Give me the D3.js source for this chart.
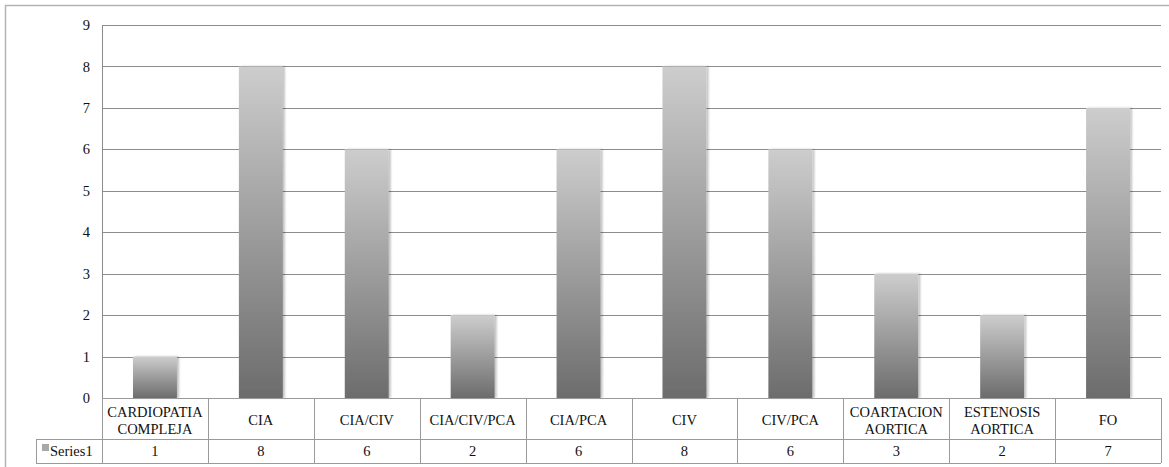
<!DOCTYPE html>
<html>
<head>
<meta charset="utf-8">
<script src="https://cdn.jsdelivr.net/npm/d3@7"></script>
<style>
  html, body { margin: 0; padding: 0; background: #fff; }
  svg { display: block; }
</style>
</head>
<body>
<script>
// Chart data
const categories = [
  ["CARDIOPATIA", "COMPLEJA"],
  ["CIA"],
  ["CIA/CIV"],
  ["CIA/CIV/PCA"],
  ["CIA/PCA"],
  ["CIV"],
  ["CIV/PCA"],
  ["COARTACION", "AORTICA"],
  ["ESTENOSIS", "AORTICA"],
  ["FO"]
];
const seriesName = "Series1";
const values = [1, 8, 6, 2, 6, 8, 6, 3, 2, 7];
const yTicks = [0, 1, 2, 3, 4, 5, 6, 7, 8, 9];

const FONT = "'Liberation Serif', 'Times New Roman', 'DejaVu Serif', serif";
const FS = 14.5;
const W = 1169, H = 467;
const plot = { left: 102, right: 1161, top: 25, bottom: 398 };
const tableRow1 = 439, tableRow2 = 463, legendLeft = 36;

const svg = d3.select("body").append("svg").attr("width", W).attr("height", H)
  .attr("font-family", FONT).style("font-family", FONT);

const defs = svg.append("defs");
const grad = defs.append("linearGradient").attr("id", "barFill")
  .attr("x1", 0).attr("y1", 0).attr("x2", 0).attr("y2", 1);
grad.append("stop").attr("offset", "0%").attr("stop-color", "#cdcdcd");
grad.append("stop").attr("offset", "100%").attr("stop-color", "#6c6c6c");

const shadow = defs.append("filter").attr("id", "barShadow")
  .attr("x", "-20%").attr("y", "-5%").attr("width", "150%").attr("height", "110%");
shadow.append("feGaussianBlur").attr("in", "SourceAlpha").attr("stdDeviation", 1.2).attr("result", "b");
shadow.append("feOffset").attr("in", "b").attr("dx", 2).attr("dy", 0).attr("result", "o");
shadow.append("feComponentTransfer").attr("in", "o").attr("result", "s")
  .append("feFuncA").attr("type", "linear").attr("slope", 0.25);
const fm = shadow.append("feMerge");
fm.append("feMergeNode").attr("in", "s");
fm.append("feMergeNode").attr("in", "SourceGraphic");

// Outer chart frame
svg.append("path")
  .attr("d", `M5.5,${H} V5.5 H${W}`)
  .attr("fill", "none").attr("stroke", "#b4b4b4").attr("stroke-width", 1.5);

const x = d3.scaleBand().domain(d3.range(categories.length))
  .range([plot.left, plot.right]).paddingInner(0.585).paddingOuter(0.2925);
const xCell = d3.scaleBand().domain(d3.range(categories.length))
  .range([plot.left, plot.right]);
const y = d3.scaleLinear().domain([0, 9]).range([plot.bottom, plot.top]);

// Gridlines
svg.append("g").selectAll("line").data(yTicks.filter(t => t > 0)).join("line")
  .attr("x1", plot.left).attr("x2", plot.right)
  .attr("y1", d => Math.round(y(d)) + 0.5).attr("y2", d => Math.round(y(d)) + 0.5)
  .attr("stroke", "#8c8c8c").attr("stroke-width", 1);

// Value axis line
svg.append("line").attr("x1", plot.left + 0.5).attr("x2", plot.left + 0.5)
  .attr("y1", plot.top).attr("y2", plot.bottom).attr("stroke", "#8c8c8c");

// Y tick labels
const yAxis = d3.axisLeft(y).tickValues(yTicks).tickSize(0).tickPadding(12);
const ya = svg.append("g").attr("transform", `translate(${plot.left},0)`).call(yAxis)
  .attr("font-family", FONT).attr("font-size", FS);
ya.select(".domain").remove();
ya.selectAll("text").attr("fill", "#111");

// Bars
svg.append("g").selectAll("rect").data(values).join("rect")
  .attr("x", (d, i) => x(i))
  .attr("width", x.bandwidth())
  .attr("y", d => y(d))
  .attr("height", d => y(0) - y(d))
  .attr("fill", "url(#barFill)")
  .attr("filter", "url(#barShadow)");

// Data table below the chart
const tbl = svg.append("g").attr("stroke", "#9a9a9a").attr("fill", "none").attr("stroke-width", 1);
tbl.append("line").attr("x1", plot.left).attr("x2", plot.right).attr("y1", plot.bottom + 0.5).attr("y2", plot.bottom + 0.5);
tbl.append("line").attr("x1", legendLeft).attr("x2", plot.right).attr("y1", tableRow1 + 0.5).attr("y2", tableRow1 + 0.5);
tbl.append("line").attr("x1", legendLeft).attr("x2", plot.right).attr("y1", tableRow2 + 0.5).attr("y2", tableRow2 + 0.5);
tbl.append("line").attr("x1", legendLeft + 0.5).attr("x2", legendLeft + 0.5).attr("y1", tableRow1).attr("y2", tableRow2);
const vlines = d3.range(categories.length + 1).map(i => i < categories.length ? xCell(i) : plot.right);
tbl.selectAll("line.v").data(vlines).join("line").attr("class", "v")
  .attr("x1", d => Math.round(d) + 0.5).attr("x2", d => Math.round(d) + 0.5)
  .attr("y1", plot.bottom).attr("y2", tableRow2);

// Category labels
const cat = svg.append("g").attr("font-size", FS).attr("fill", "#111")
  .selectAll("text").data(categories).join("text")
  .attr("text-anchor", "middle");
cat.each(function (lines, i) {
  const t = d3.select(this);
  const cx = xCell(i) + xCell.bandwidth() / 2;
  const midBase = 425;
  const lh = 17;
  lines.forEach((ln, k) => {
    t.append("tspan").attr("x", cx)
      .attr("y", midBase + (k - (lines.length - 1) / 2) * lh)
      .text(ln);
  });
});

// Value row
const rowBase = (tableRow1 + tableRow2) / 2 + 5;
svg.append("g").attr("font-size", FS).attr("fill", "#111")
  .selectAll("text").data(values).join("text")
  .attr("x", (d, i) => xCell(i) + xCell.bandwidth() / 2)
  .attr("y", rowBase)
  .attr("text-anchor", "middle")
  .text(d => d);

// Legend key in the table header cell
svg.append("rect").attr("x", legendLeft + 6).attr("y", 444).attr("width", 7).attr("height", 7).attr("fill", "#a8a8a8");
svg.append("text").attr("x", legendLeft + 14).attr("y", rowBase)
  .attr("font-size", FS).attr("fill", "#111").text(seriesName);
</script>
</body>
</html>
